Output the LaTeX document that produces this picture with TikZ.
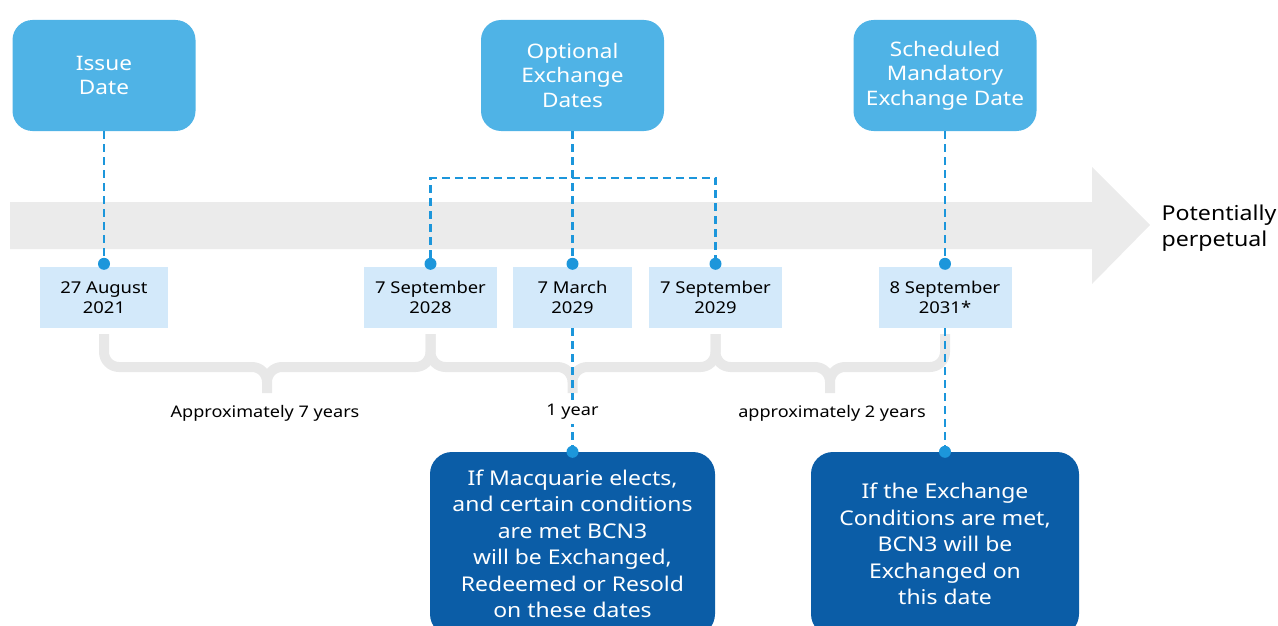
\documentclass[tikz,border=0pt]{standalone}
\usepackage{fontspec}
\setmainfont{Noto Sans}[FakeStretch=1.13]
\usetikzlibrary{%
  positioning,% wg. " of "
  calc%
}

\definecolor{topblue}{HTML}{4FB3E6}
\definecolor{datefill}{HTML}{D3E9FA}
\definecolor{linkblue}{HTML}{1C96DB}
\definecolor{deepblue}{HTML}{0B5DA7}
\definecolor{bandgray}{HTML}{EBEBEB}
\definecolor{bracegray}{HTML}{E8E8E8}

\tikzset{
  topbox/.style={fill=topblue, text=white, rounded corners=20pt, minimum width=183pt,
    minimum height=111pt, align=center, font=\fontsize{20}{24.5}\selectfont},
  datebox/.style={fill=datefill, minimum height=61pt, align=center,
    font=\fontsize{16.3}{20.5}\selectfont},
  resbox/.style={fill=deepblue, text=white, rounded corners=22pt, minimum height=184pt,
    align=center, font=\fontsize{20.3}{26.5}\selectfont},
  link/.style={draw=linkblue, line width=2.5pt, dash pattern=on 8pt off 5pt},
  pin/.style={circle, fill=linkblue, inner sep=0pt, minimum size=12pt},
  span/.style={draw=bracegray, line width=10pt, rounded corners=15pt},
  gaplabel/.style={font=\fontsize{16}{20}\selectfont, inner sep=4pt},
}

\begin{document}
\begin{tikzpicture}[x=1pt, y=-1pt]
\useasboundingbox (0,0) rectangle (1278,626);
\clip (0,0) rectangle (1278,626);

% -------- timeline band
\fill[bandgray] (10,202) -- (1092,202) -- (1092,167) -- (1150,225) -- (1092,284)
  -- (1092,249) -- (10,249) -- cycle;
\node[anchor=west, align=left, font=\fontsize{20.5}{26}\selectfont] (perp) at (1158,228)
  {Potentially\\perpetual};

% -------- top boxes
\node[topbox] (issue) at (104,75.5) {Issue\\Date};
\node[topbox] (opt) at (572.5,75.5) {Optional\\Exchange\\Dates};
\node[topbox] (sched) at (945,75.5) {Scheduled\\Mandatory\\Exchange Date};

% -------- dates
\node[datebox, minimum width=128pt] (d1) at (104,297.5) {27 August\\2021};
\node[datebox, minimum width=133pt] (d2) at (430.5,297.5) {7 September\\2028};
\node[datebox, minimum width=119pt] (d3) at (572.5,297.5) {7 March\\2029};
\node[datebox, minimum width=133pt] (d4) at (715.5,297.5) {7 September\\2029};
\node[datebox, minimum width=133pt] (d5) at (945,297.5) {8 September\\2031*};

\foreach \i in {1,...,5}
  \node[pin] (p\i) at ([yshift=3pt]d\i.north) {};

% -------- braces
\foreach \a/\m/\b in {104/267/430.5, 430.5/572.5/715.5, 715.5/830/945}
  \draw[span] (\a,334) -- (\a,367) -- (\m,367) -- (\m,393)
    (\m,393) -- (\m,367) -- (\b,367) -- (\b,334);

% -------- outcomes
\node[resbox, minimum width=285pt] (resA) at (572.5,544)
  {If Macquarie elects,\\and certain conditions\\are met BCN3\\will be Exchanged,\\Redeemed or Resold\\on these dates};
\node[resbox, minimum width=268pt] (resB) at (945,544)
  {If the Exchange\\Conditions are met,\\BCN3 will be\\Exchanged on\\this date};
\node[pin] (pA) at (resA.north) {};
\node[pin] (pB) at (resB.north) {};

% -------- links
\coordinate (jn) at (572.5,178);
\draw[link] (issue) -- (p1);
\draw[link] (opt) -- (p3);
\draw[link] (sched) -- (p5);
\draw[link] (p2) |- (jn) -| (p4);
\draw[link] (d3) -- (pA);
\draw[link] (d5) -- (pB);

% -------- gaps
\node[gaplabel] (gap1) at (265,413) {Approximately 7 years};
\node[gaplabel, fill=white] (gap2) at (572.5,412) {1 year};
\node[gaplabel] (gap3) at (832,413) {approximately 2 years};

\end{tikzpicture}
\end{document}
